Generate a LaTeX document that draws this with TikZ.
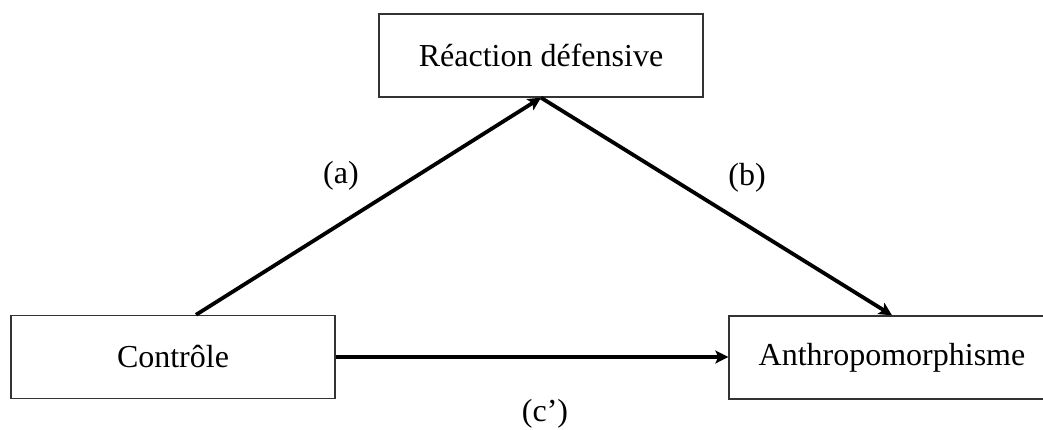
\documentclass[tikz,border=0pt]{standalone}
\usepackage{fontspec}
\setmainfont{Liberation Serif}
\usetikzlibrary{arrows.meta,positioning}
\tikzset{
  box/.style={
    draw = black!80,
    line width = 0.7pt,
    shape = rectangle,
    minimum width = 162pt,
    minimum height = 41.5pt,
    inner sep = 0pt
  },
  path/.style={
    line width = 1.9pt,
    -{Stealth[length=6.5pt,width=6.5pt,inset=1.5pt]}
  },
  lab/.style={
    inner sep = 0pt
  },
  every picture/.style = {
    font=\fontsize{16}{19}\selectfont
  }
}
\begin{document}
\begin{tikzpicture}[x=0.5pt,y=-0.5pt]
  \useasboundingbox (0,0) rectangle (1043,429);
  \node[box] (reac) at (541,55.5) {Réaction défensive};
  \node[box] (ctrl) at (173,357) {Contrôle};
  \node[box, minimum width=163pt] (anthro) at (892,357.5) {Anthropomorphisme};

  \draw[path] ([xshift=11.5pt]ctrl.north) -- (reac.south);
  \draw[path] (reac.south) -- (anthro.north);
  \draw[path] (ctrl.east) -- (ctrl.east -| anthro.west);

  \node[lab] (la) at (341,176) {(a)};
  \node[lab] (lb) at (747,178) {(b)};
  \node[lab] (lc) at (545,414) {(c’)};
\end{tikzpicture}
\end{document}
